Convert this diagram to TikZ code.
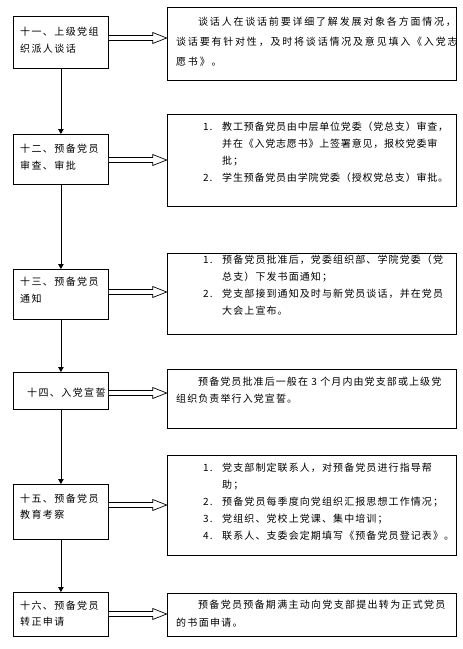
\documentclass[tikz,border=0pt]{standalone}
\usepackage{fontspec}
\newfontfamily\cjk{Noto Sans CJK SC}
\usetikzlibrary{arrows.meta,calc}
\newcommand\ls[1]{\addfontfeature{LetterSpace=#1}}
\newcommand\numi[1]{\makebox[19pt][l]{#1}}
\newcommand\hang{\hspace*{19pt}}
\tikzset{
  box/.style={draw, line width=0.8pt, anchor=north west, inner sep=0pt},
  lbox/.style={box, minimum width=95pt},
  rbox/.style={box, minimum width=289.3pt},
  ltext/.style={anchor=west, align=left, inner sep=0pt, font={\cjk\fontsize{10}{16.5}\selectfont\ls{14}}},
  rtext/.style={anchor=west, align=left, inner sep=0pt, font={\cjk\fontsize{10}{17}\selectfont}},
  varrow/.style={line width=0.8pt, -{Triangle[width=5.5pt,length=5pt]}},
  hollow/.style={line width=0.7pt, fill=white, line join=miter}
}
\newcommand\harrow[3]{%
  \path (#1.east |- 0,#3) coordinate (hs) (#2.west |- 0,#3) coordinate (ht);
  \draw[hollow] ($(hs)+(0,-2.5)$) -- ($(ht)+(-14,-2.5)$) -- ($(ht)+(-14,-5.5)$) -- (ht)
     -- ($(ht)+(-14,5.5)$) -- ($(ht)+(-14,2.5)$) -- ($(hs)+(0,2.5)$);}
\begin{document}
\begin{tikzpicture}[x=1pt,y=-1pt]
\useasboundingbox[fill=white] (0,0) rectangle (463,649);
% left boxes
\node[lbox, minimum height=52pt] (L1) at (13,16) {};
\node[lbox, minimum height=50pt] (L2) at (13,134) {};
\node[lbox, minimum height=50pt] (L3) at (13,269) {};
\node[lbox, minimum height=37pt] (L4) at (13,372) {};
\node[lbox, minimum height=55pt] (L5) at (13,484) {};
\node[lbox, minimum height=44pt] (L6) at (13,592) {};
% right boxes
\node[rbox, minimum height=73pt] (R1) at (166.7,7) {};
\node[rbox, minimum height=92pt] (R2) at (166.7,114) {};
\node[rbox, minimum height=81pt] (R3) at (166.7,253) {};
\node[rbox, minimum height=59pt] (R4) at (166.7,369) {};
\node[rbox, minimum height=100pt] (R5) at (166.7,455) {};
\node[rbox, minimum height=43pt] (R6) at (166.7,593) {};
% left texts
\node[ltext] (T1) at (20,40) {十一、上级党组\\织派人谈话};
\node[ltext] (T2) at (20,157) {十二、预备党员\\审查、审批};
\node[ltext] (T3) at (20,290) {十三、预备党员\\通知};
\node[ltext] (T4) at (27,393) {十四、入党宣誓};
\node[ltext] (T5) at (20,506.5) {十五、预备党员\\教育考察};
\node[ltext] (T6) at (20,613.5) {十六、预备党员\\转正申请};
% right texts
\node[rtext, font={\cjk\fontsize{10}{20}\selectfont\ls{18}}] (S1) at (176,42)
  {\hspace*{22pt}谈话人在谈话前要详细了解发展对象各方面情况，\\谈话要有针对性，及时将谈话情况及意见填入《入党志\\愿书》。};
\node[rtext, font={\cjk\fontsize{10}{17}\selectfont\ls{8}}] (S2) at (203,152.5)
  {\numi{1.}教工预备党员由中层单位党委（党总支）审查，\\\hang 并在《入党志愿书》上签署意见，报校党委审\\\hang 批；\\\numi{2.}学生预备党员由学院党委（授权党总支）审批。};
\node[rtext, font={\cjk\fontsize{10}{17}\selectfont\ls{11}}] (S3) at (203,285.5)
  {\numi{1.}预备党员批准后，党委组织部、学院党委（党\\\hang 总支）下发书面通知；\\\numi{2.}党支部接到通知及时与新党员谈话，并在党员\\\hang 大会上宣布。};
\node[rtext, font={\cjk\fontsize{10}{17}\selectfont\ls{11}}] (S4) at (176,390.5)
  {\hspace*{22pt}预备党员批准后一般在 3 个月内由党支部或上级党\\组织负责举行入党宣誓。};
\node[rtext, font={\cjk\fontsize{10}{17}\selectfont\ls{11}}] (S5) at (203,502)
  {\numi{1.}党支部制定联系人，对预备党员进行指导帮\\\hang 助；\\\numi{2.}预备党员每季度向党组织汇报思想工作情况；\\\numi{3.}党组织、党校上党课、集中培训；\\\numi{4.}联系人、支委会定期填写《预备党员登记表》。};
\node[rtext, font={\cjk\fontsize{10}{18}\selectfont\ls{13}}] (S6) at (176,614)
  {\hspace*{22pt}预备党员预备期满主动向党支部提出转为正式党员\\的书面申请。};
% vertical arrows
\draw[varrow] (L1.south) -- (L2.north);
\draw[varrow] (L2.south) -- (L3.north);
\draw[varrow] (L3.south) -- (L4.north);
\draw[varrow] (L4.south) -- (L5.north);
\draw[varrow] (L5.south) -- (L6.north);
% hollow arrows
\harrow{L1}{R1}{38}
\harrow{L2}{R2}{160}
\harrow{L3}{R3}{292}
\harrow{L4}{R4}{393}
\harrow{L5}{R5}{505}
\harrow{L6}{R6}{614}
\end{tikzpicture}
\end{document}
